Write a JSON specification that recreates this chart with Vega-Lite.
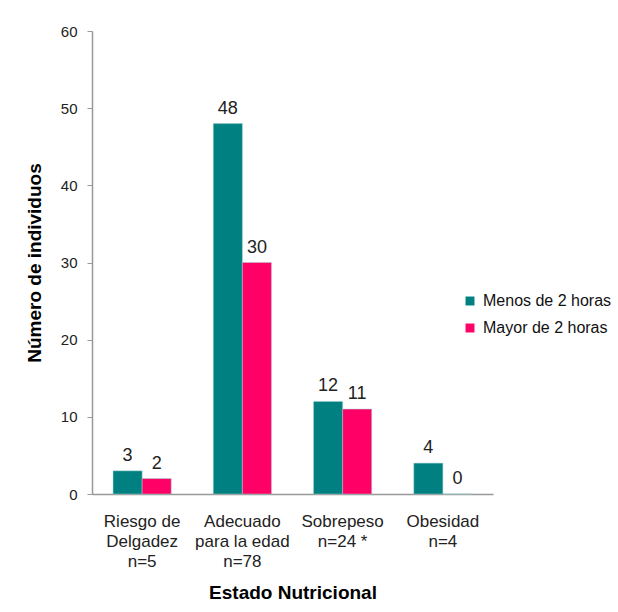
{
  "$schema": "https://vega.github.io/schema/vega-lite/v6.json",
  "width": 401,
  "height": 463,
  "autosize": {"type": "none"},
  "padding": {"left": 92, "top": 31, "right": 125, "bottom": 118},
  "background": "white",
  "config": {
    "view": {"stroke": null},
    "font": "Liberation Sans"
  },
  "data": {
    "values": [
      {"estado": "Riesgo de|Delgadez|n=5", "grupo": "Menos de 2 horas", "n": 3},
      {"estado": "Riesgo de|Delgadez|n=5", "grupo": "Mayor de 2 horas", "n": 2},
      {"estado": "Adecuado|para la edad|n=78", "grupo": "Menos de 2 horas", "n": 48},
      {"estado": "Adecuado|para la edad|n=78", "grupo": "Mayor de 2 horas", "n": 30},
      {"estado": "Sobrepeso|n=24 *", "grupo": "Menos de 2 horas", "n": 12},
      {"estado": "Sobrepeso|n=24 *", "grupo": "Mayor de 2 horas", "n": 11},
      {"estado": "Obesidad|n=4", "grupo": "Menos de 2 horas", "n": 4},
      {"estado": "Obesidad|n=4", "grupo": "Mayor de 2 horas", "n": 0}
    ]
  },
  "encoding": {
    "x": {
      "field": "estado",
      "type": "nominal",
      "sort": null,
      "scale": {"paddingInner": 0.42, "paddingOuter": 0.21},
      "axis": {
        "title": "Estado Nutricional",
        "titleFont": "Liberation Sans",
        "titleFontSize": 19,
        "titleFontWeight": "bold",
        "titleColor": "#000000",
        "titlePadding": 14,
        "labelFont": "Liberation Sans",
        "labelExpr": "split(datum.label, '|')",
        "labelAngle": 0,
        "labelFontSize": 17,
        "labelColor": "#222222",
        "labelLineHeight": 20,
        "labelPadding": 19,
        "ticks": false,
        "domainColor": "#999999",
        "domainWidth": 1.5
      }
    },
    "xOffset": {"field": "grupo", "type": "nominal", "sort": ["Menos de 2 horas", "Mayor de 2 horas"]},
    "y": {
      "field": "n",
      "type": "quantitative",
      "scale": {"domain": [0, 60]},
      "axis": {
        "title": "Número de individuos",
        "titleFont": "Liberation Sans",
        "titleFontSize": 19,
        "titleFontWeight": "bold",
        "titleColor": "#000000",
        "titlePadding": 16,
        "values": [0, 10, 20, 30, 40, 50, 60],
        "grid": false,
        "labelFont": "Liberation Sans",
        "labelFontSize": 15,
        "labelColor": "#222222",
        "labelPadding": 10,
        "tickSize": 5,
        "tickColor": "#999999",
        "domainColor": "#999999",
        "domainWidth": 1.5
      }
    },
    "color": {
      "field": "grupo",
      "type": "nominal",
      "sort": ["Menos de 2 horas", "Mayor de 2 horas"],
      "scale": {"domain": ["Menos de 2 horas", "Mayor de 2 horas"], "range": ["#008080", "#FF0066"]},
      "legend": {
        "title": null,
        "orient": "none",
        "legendX": 370,
        "legendY": 262,
        "symbolType": "square",
        "symbolSize": 80,
        "symbolStrokeWidth": 0,
        "labelFont": "Liberation Sans",
        "labelFontSize": 16,
        "labelColor": "#111111",
        "labelLimit": 300,
        "rowPadding": 11,
        "labelOffset": 5
      }
    }
  },
  "layer": [
    {"mark": {"type": "bar", "stroke": "#9fcfcf", "strokeWidth": 0.5}},
    {
      "mark": {"type": "text", "baseline": "bottom", "dy": -6, "fontSize": 18, "font": "Liberation Sans", "color": "#222222"},
      "encoding": {"text": {"field": "n", "type": "quantitative"}, "color": {"value": "#222222"}}
    }
  ]
}
